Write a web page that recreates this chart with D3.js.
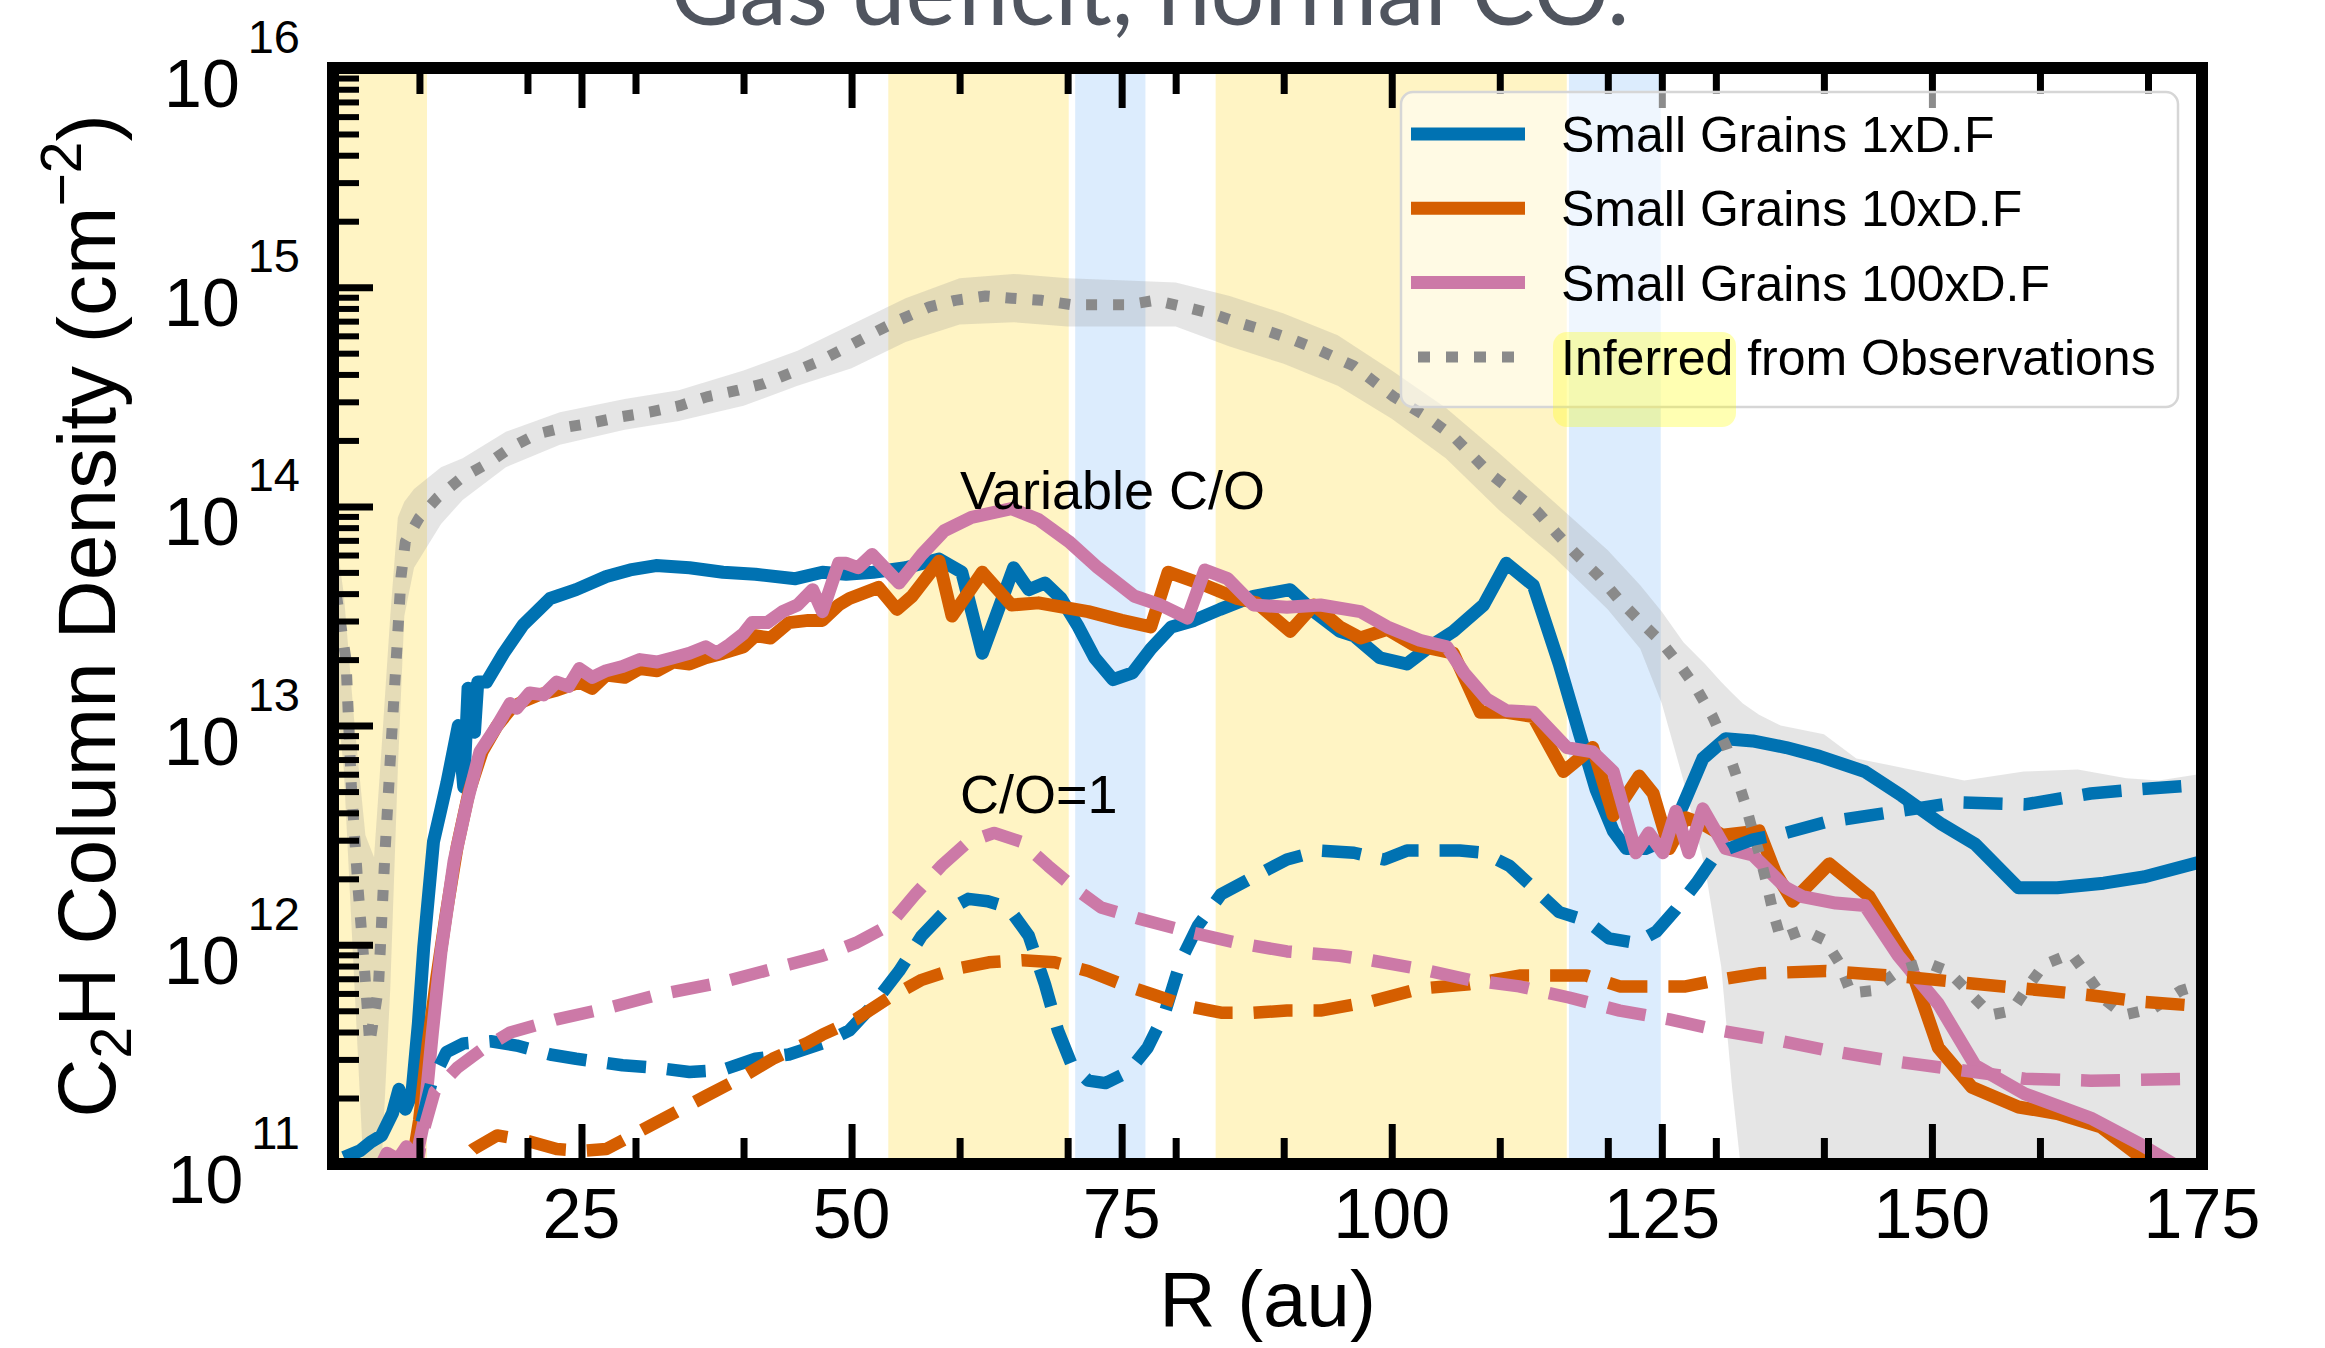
<!DOCTYPE html>
<html><head><meta charset="utf-8">
<script src="https://cdn.jsdelivr.net/npm/d3@7"></script>
<style>
html,body{margin:0;padding:0;background:#fff;}
svg{display:block;}
</style></head><body>
<svg id="chart" width="2325" height="1348"></svg>
<script>
// ---------------- data ----------------
const xMajorTicks = [25, 50, 75, 100, 125, 150, 175];
const xMinorTicks = [10, 20, 30, 40, 60, 70, 80, 90, 110, 120, 130, 140, 160, 170];
const yDecades = [11, 12, 13, 14, 15, 16];
const legendLabels = ["Small Grains 1xD.F", "Small Grains 10xD.F", "Small Grains 100xD.F", "Inferred from Observations"];
const annotationLabels = ["Variable C/O", "C/O=1"];

// highlighted radial ranges (au)
const yellowSpans = [[0, 10.7], [53.4, 70.1], [83.7, 116.2]];
const blueSpans = [[70.7, 77.2], [116.4, 124.9]];

// Variable C/O (solid) [R au, N cm^-2]
const grains1x = [[3.0,1.07e11],[4.5,1.15e11],[5.5,1.26e11],[6.5,1.35e11],[7.5,1.70e11],[8.1,2.19e11],[8.7,1.78e11],[9.3,2.09e11],[9.9,4.37e11],[10.4,9.77e11],[11.3,2.95e12],[12.0,4.17e12],[12.55,5.50e12],[13.6,1.00e13],[14.1,5.25e12],[14.5,1.48e13],[15.1,9.33e12],[15.4,1.58e13],[16.2,1.58e13],[17.8,2.14e13],[19.6,2.88e13],[22.1,3.80e13],[24.5,4.17e13],[27.3,4.79e13],[29.5,5.13e13],[31.9,5.37e13],[35.0,5.25e13],[38.1,5.01e13],[41.1,4.90e13],[44.8,4.68e13],[47.3,5.01e13],[49.5,4.90e13],[52.0,5.01e13],[55.0,5.25e13],[58.1,5.75e13],[60.2,5.01e13],[62.1,2.14e13],[65.0,5.25e13],[66.4,4.17e13],[67.9,4.47e13],[69.4,3.80e13],[71.0,2.82e13],[72.5,2.04e13],[74.2,1.62e13],[76.0,1.74e13],[77.7,2.24e13],[79.6,2.82e13],[81.7,3.02e13],[84.1,3.39e13],[87.2,3.89e13],[90.6,4.17e13],[92.8,3.31e13],[95.2,2.69e13],[96.5,2.57e13],[98.9,2.04e13],[101.4,1.91e13],[103.5,2.29e13],[105.7,2.69e13],[108.5,3.55e13],[110.6,5.50e13],[113.1,4.37e13],[115.5,1.91e13],[117.4,9.12e12],[118.9,5.13e12],[120.5,3.31e12],[121.7,2.75e12],[123.5,2.75e12],[125.4,3.02e12],[126.9,4.27e12],[128.8,7.08e12],[130.9,8.71e12],[133.4,8.51e12],[136.5,7.94e12],[139.6,7.24e12],[143.8,6.17e12],[147.2,4.79e12],[150.9,3.55e12],[154.0,2.88e12],[158.0,1.82e12],[161.6,1.82e12],[165.9,1.91e12],[169.6,2.04e12],[175.0,2.40e12]];

const grains10x = [[9.0,7.94e10],[10.0,1.58e11],[10.8,3.55e11],[11.6,7.08e11],[12.5,1.41e12],[13.5,2.82e12],[14.6,5.01e12],[15.8,7.59e12],[17.2,1.00e13],[18.5,1.20e13],[19.6,1.29e13],[21.0,1.38e13],[22.7,1.45e13],[24.8,1.58e13],[26.0,1.48e13],[27.3,1.70e13],[29.0,1.66e13],[30.4,1.82e13],[32.0,1.78e13],[33.5,1.95e13],[35.0,1.91e13],[36.5,2.04e13],[38.1,2.14e13],[40.0,2.29e13],[41.1,2.57e13],[42.5,2.51e13],[44.2,2.95e13],[46.0,3.02e13],[47.3,3.02e13],[48.8,3.55e13],[49.8,3.80e13],[52.5,4.27e13],[54.2,3.39e13],[55.6,3.89e13],[58.1,5.62e13],[59.3,3.16e13],[62.1,5.01e13],[64.8,3.55e13],[67.3,3.63e13],[71.9,3.31e13],[75.0,3.02e13],[77.7,2.82e13],[79.3,5.01e13],[82.7,4.37e13],[85.7,3.80e13],[87.5,3.63e13],[90.6,2.69e13],[92.8,3.55e13],[95.2,2.82e13],[97.1,2.51e13],[99.6,2.75e13],[102.0,2.34e13],[105.7,2.14e13],[108.2,1.15e13],[110.6,1.15e13],[113.1,1.10e13],[115.9,6.17e12],[118.6,7.94e12],[120.5,3.89e12],[122.9,5.89e12],[124.2,4.90e12],[125.7,2.75e12],[127.2,3.80e12],[128.8,3.55e12],[130.6,3.16e12],[134.0,3.31e12],[135.5,2.14e12],[137.1,1.58e12],[140.5,2.34e12],[144.2,1.66e12],[147.8,8.51e11],[150.6,3.39e11],[153.7,2.24e11],[158.0,1.82e11],[161.6,1.70e11],[165.6,1.48e11],[169.6,1.05e11],[172.4,8.32e10],[175.0,6.31e10]];

const grains100x = [[6.0,8.91e10],[7.0,1.12e11],[8.0,1.05e11],[8.8,1.20e11],[9.5,9.55e10],[10.4,1.55e11],[11.2,3.98e11],[12.0,9.33e11],[13.2,2.40e12],[14.4,4.47e12],[15.6,7.59e12],[17.2,1.00e13],[18.4,1.26e13],[19.0,1.20e13],[20.2,1.41e13],[21.5,1.38e13],[22.7,1.58e13],[23.8,1.51e13],[24.8,1.82e13],[26.0,1.66e13],[27.3,1.78e13],[28.8,1.86e13],[30.4,2.00e13],[32.0,1.95e13],[33.5,2.04e13],[35.0,2.14e13],[36.5,2.29e13],[37.5,2.14e13],[38.7,2.34e13],[40.0,2.63e13],[40.8,2.95e13],[42.2,2.95e13],[43.6,3.31e13],[45.0,3.55e13],[46.4,4.17e13],[47.3,3.31e13],[48.8,5.50e13],[49.5,5.50e13],[50.6,5.25e13],[51.9,6.03e13],[54.4,4.47e13],[56.5,6.03e13],[58.6,7.76e13],[61.1,8.91e13],[64.8,9.77e13],[67.3,8.71e13],[70.1,6.92e13],[72.8,5.25e13],[76.2,3.89e13],[78.6,3.55e13],[81.1,3.09e13],[82.7,5.13e13],[84.8,4.68e13],[87.2,3.55e13],[90.3,3.47e13],[93.4,3.55e13],[97.1,3.31e13],[99.6,2.82e13],[102.6,2.45e13],[105.1,2.29e13],[106.7,1.74e13],[108.8,1.32e13],[110.6,1.17e13],[113.1,1.15e13],[116.2,7.94e12],[118.6,7.59e12],[120.5,6.17e12],[121.7,3.80e12],[122.6,2.63e12],[123.8,3.24e12],[125.1,2.63e12],[126.3,4.07e12],[127.5,2.63e12],[128.8,4.17e12],[130.9,2.75e12],[133.4,2.57e12],[136.5,1.82e12],[138.0,1.66e12],[141.1,1.55e12],[143.8,1.51e12],[146.9,8.91e11],[150.6,5.37e11],[154.0,2.82e11],[158.6,2.09e11],[164.7,1.62e11],[169.3,1.23e11],[172.7,9.77e10],[175.0,7.94e10]];

// C/O = 1 (dashed)
const grains1xCO1 = [[10.2,1.55e11],[11.1,2.34e11],[12.5,3.24e11],[14.1,3.55e11],[16.6,3.63e11],[19.0,3.47e11],[22.1,3.16e11],[24.5,3.02e11],[28.8,2.82e11],[31.9,2.75e11],[35.0,2.63e11],[38.1,2.69e11],[41.1,3.02e11],[44.2,3.16e11],[47.3,3.55e11],[49.8,4.07e11],[51.9,5.25e11],[54.4,7.59e11],[56.5,1.10e12],[58.6,1.41e12],[60.8,1.62e12],[62.6,1.58e12],[64.5,1.48e12],[66.4,1.10e12],[67.9,6.61e11],[69.1,4.07e11],[70.4,2.82e11],[71.9,2.40e11],[73.5,2.34e11],[75.6,2.63e11],[77.4,3.39e11],[79.0,4.90e11],[80.5,8.51e11],[82.1,1.23e12],[84.2,1.70e12],[87.2,2.04e12],[90.3,2.45e12],[93.4,2.69e12],[96.5,2.63e12],[99.3,2.45e12],[101.4,2.69e12],[106.3,2.69e12],[108.5,2.63e12],[110.9,2.29e12],[113.1,1.82e12],[115.5,1.41e12],[118.0,1.29e12],[120.1,1.07e12],[122.6,1.02e12],[124.5,1.15e12],[126.3,1.45e12],[128.2,1.91e12],[129.7,2.45e12],[131.2,2.75e12],[133.4,3.02e12],[136.5,3.24e12],[140.2,3.63e12],[146.9,4.07e12],[152.4,4.47e12],[158.6,4.37e12],[164.7,4.90e12],[169.3,5.13e12],[175.0,5.37e12]];

const grains10xCO1 = [[11.5,7.08e10],[13.2,9.55e10],[15.0,1.17e11],[17.2,1.35e11],[19.6,1.29e11],[22.7,1.17e11],[25.1,1.15e11],[27.3,1.17e11],[30.4,1.41e11],[33.5,1.70e11],[36.5,2.04e11],[39.6,2.45e11],[42.7,3.02e11],[45.8,3.55e11],[47.3,3.89e11],[50.4,4.57e11],[53.5,5.75e11],[56.5,6.92e11],[59.6,7.76e11],[62.7,8.32e11],[65.8,8.51e11],[68.8,8.32e11],[71.9,7.59e11],[75.0,6.61e11],[78.1,5.89e11],[81.1,5.25e11],[84.2,4.90e11],[87.2,4.90e11],[90.3,5.01e11],[93.4,5.01e11],[98.0,5.50e11],[102.6,6.31e11],[107.2,6.61e11],[111.8,7.24e11],[114.9,7.24e11],[118.0,7.24e11],[121.1,6.46e11],[124.2,6.46e11],[127.2,6.46e11],[130.3,6.92e11],[134.0,7.41e11],[140.2,7.59e11],[146.3,7.24e11],[152.4,6.76e11],[158.6,6.31e11],[164.7,5.89e11],[169.3,5.50e11],[175.0,5.25e11]];

const grains100xCO1 = [[9.5,7.94e10],[10.2,1.32e11],[11.4,2.14e11],[13.5,2.75e11],[16.0,3.39e11],[18.4,3.98e11],[22.7,4.57e11],[27.3,5.13e11],[31.9,5.89e11],[38.1,6.76e11],[44.2,8.13e11],[47.3,8.91e11],[50.4,1.02e12],[53.5,1.23e12],[55.9,1.70e12],[58.3,2.29e12],[60.8,2.95e12],[63.2,3.24e12],[65.7,2.95e12],[68.2,2.29e12],[70.6,1.82e12],[73.1,1.48e12],[76.5,1.32e12],[81.1,1.15e12],[85.7,1.02e12],[90.3,9.33e11],[95.2,8.91e11],[98.0,8.51e11],[102.6,7.76e11],[107.2,6.92e11],[111.8,6.46e11],[116.4,5.75e11],[121.1,5.01e11],[125.7,4.57e11],[130.3,4.07e11],[135.0,3.72e11],[140.2,3.31e11],[146.3,2.95e11],[152.4,2.69e11],[158.6,2.45e11],[164.7,2.40e11],[175.0,2.45e11]];

// Inferred from observations (dotted) and its uncertainty band
const observed = [[2.3,3.98e13],[3.2,2.00e13],[3.7,5.25e12],[4.3,1.86e12],[4.9,7.94e11],[5.4,3.55e11],[6.2,6.31e11],[6.8,2.57e12],[7.4,8.51e12],[7.9,2.19e13],[8.3,4.79e13],[8.7,6.92e13],[10.0,8.91e13],[11.7,1.10e14],[13.9,1.35e14],[16.4,1.58e14],[18.5,1.86e14],[20.9,2.14e14],[23.4,2.29e14],[25.9,2.40e14],[28.8,2.57e14],[31.3,2.69e14],[34.1,2.88e14],[36.6,3.16e14],[39.5,3.39e14],[41.9,3.63e14],[44.4,4.07e14],[46.9,4.57e14],[49.3,5.25e14],[52.0,6.17e14],[54.4,7.08e14],[57.2,8.13e14],[59.6,8.71e14],[62.4,9.12e14],[64.8,8.91e14],[67.6,8.71e14],[70.4,8.32e14],[75.6,8.32e14],[78.1,8.71e14],[80.8,8.13e14],[83.3,7.59e14],[85.7,6.92e14],[88.5,6.31e14],[90.9,5.75e14],[93.4,5.13e14],[96.5,4.37e14],[100.2,3.16e14],[103.2,2.57e14],[105.7,2.09e14],[109.1,1.41e14],[111.2,1.17e14],[113.4,9.55e13],[115.2,7.59e13],[117.1,6.03e13],[119.2,4.79e13],[121.1,3.72e13],[122.9,3.02e13],[124.8,2.45e13],[126.6,1.91e13],[128.2,1.48e13],[129.7,1.10e13],[131.0,7.94e12],[131.9,5.89e12],[132.8,4.27e12],[133.4,3.31e12],[134.0,2.63e12],[134.7,1.91e12],[135.3,1.41e12],[136.0,1.07e12],[138.1,1.17e12],[140.1,1.05e12],[141.4,8.32e11],[142.5,6.03e11],[144.4,6.17e11],[146.9,7.59e11],[149.4,8.32e11],[151.5,7.59e11],[153.7,5.89e11],[155.5,4.79e11],[157.4,5.01e11],[158.9,6.46e11],[160.4,8.13e11],[162.9,9.12e11],[164.4,7.24e11],[166.0,5.62e11],[167.8,4.79e11],[170.5,5.13e11],[173.0,6.17e11],[175.0,6.61e11]];

const bandR  = [2.0,3.0,4.0,5.0,5.8,6.5,7.3,8.0,8.6,9.5,12.0,14.0,18.0,23.0,29.0,34.0,40.0,45.0,50.0,55.0,60.0,65.0,70.0,76.0,80.0,85.0,90.0,95.0,100.0,105.0,110.0,115.0,120.0,123.0,125.0,127.0,129.0,130.5,131.5,132.5,134.0,136.0,140.0,143.0,146.0,153.0,158.5,163.5,168.0,171.0,175.0];
const bandLo = [2.00e13,6.31e12,6.31e11,6.31e10,5.01e10,1.00e11,6.31e11,6.31e12,3.16e13,5.25e13,8.32e13,1.07e14,1.51e14,1.91e14,2.24e14,2.45e14,2.88e14,3.55e14,4.27e14,5.62e14,6.76e14,6.92e14,6.61e14,6.61e14,6.61e14,5.37e14,4.47e14,3.55e14,2.51e14,1.66e14,9.55e13,5.89e13,3.39e13,2.24e13,1.26e13,5.62e12,2.24e12,7.94e11,2.24e11,7.94e10,3.16e10,3.16e10,3.16e10,3.16e10,3.16e10,3.16e10,3.16e10,3.16e10,3.16e10,3.16e10,3.16e10];
const bandHi = [8.91e13,3.98e13,1.00e13,3.16e12,2.51e12,7.94e12,3.16e13,8.91e13,1.05e14,1.20e14,1.51e14,1.66e14,2.19e14,2.69e14,3.09e14,3.39e14,4.17e14,5.13e14,6.76e14,8.91e14,1.10e15,1.15e15,1.10e15,1.07e15,1.05e15,9.12e14,7.59e14,6.03e14,4.17e14,2.82e14,1.74e14,1.05e14,6.31e13,4.37e13,3.31e13,2.40e13,1.91e13,1.58e13,1.41e13,1.26e13,1.12e13,1.00e13,9.12e12,7.08e12,6.61e12,5.62e12,6.17e12,6.31e12,5.75e12,5.62e12,6.03e12];

// ---------------- drawing ----------------
const C = {blue: "#0072b2", orange: "#d55e00", pink: "#cc79a7", gray: "#8a8a8a"};
const L = 333, R = 2202, T = 68, B = 1164;
const x = d3.scaleLinear().domain([2, 175]).range([L, R]);
const y = d3.scaleLog().domain([1e11, 1e16]).range([B, T]);

const svg = d3.select("#chart");
const FONT = "'Liberation Sans', Arial, Helvetica, sans-serif";

svg.append("defs").append("clipPath").attr("id", "plotclip")
  .append("rect").attr("x", L).attr("y", T).attr("width", R - L).attr("height", B - T);

// title (cropped at the top of the figure, as in the source image)
svg.append("text").attr("x", 1150).attr("y", 25).attr("text-anchor", "middle")
  .attr("font-family", "Lato, 'Open Sans', sans-serif").attr("font-weight", 400)
  .attr("font-size", 95).attr("fill", "#50555f").text("Gas deficit, normal CO.");

const plot = svg.append("g").attr("clip-path", "url(#plotclip)");

plot.selectAll("rect.ys").data(yellowSpans).join("rect").attr("class", "ys")
  .attr("x", d => x(d[0])).attr("width", d => x(d[1]) - x(d[0]))
  .attr("y", T).attr("height", B - T).attr("fill", "#fff4c4");
plot.selectAll("rect.bs").data(blueSpans).join("rect").attr("class", "bs")
  .attr("x", d => x(d[0])).attr("width", d => x(d[1]) - x(d[0]))
  .attr("y", T).attr("height", B - T).attr("fill", "#dcecfd");

const band = bandR.map((r, i) => [r, bandLo[i], bandHi[i]]);
plot.append("path").datum(band)
  .attr("d", d3.area().x(d => x(d[0])).y0(d => y(d[1])).y1(d => y(d[2])))
  .attr("fill", "#8f8f8f").attr("fill-opacity", 0.23);

const line = d3.line().x(d => x(d[0])).y(d => y(d[1]));
function draw(data, color, width, dash) {
  const p = plot.append("path").datum(data).attr("d", line)
    .attr("fill", "none").attr("stroke", color).attr("stroke-width", width)
    .attr("stroke-linejoin", "round");
  if (dash) p.attr("stroke-dasharray", dash);
}
draw(grains1x, C.blue, 13);
draw(grains10x, C.orange, 13);
draw(grains100x, C.pink, 13);
draw(observed, C.gray, 11, "11 16");
draw(grains1xCO1, C.blue, 12.5, "39 21");
draw(grains10xCO1, C.orange, 12.5, "39 21");
draw(grains100xCO1, C.pink, 12.5, "39 21");

// annotations
svg.append("text").attr("x", 960).attr("y", 509).attr("font-family", FONT)
  .attr("font-size", 54).attr("fill", "#000").text(annotationLabels[0]);
svg.append("text").attr("x", 960).attr("y", 813).attr("font-family", FONT)
  .attr("font-size", 54).attr("fill", "#000").text(annotationLabels[1]);

// axes ticks (inward)
function styleAxis(g, w) {
  g.select(".domain").remove();
  g.selectAll(".tick line").attr("stroke", "#000").attr("stroke-width", w);
  g.selectAll(".tick text").remove();
}
svg.append("g").attr("transform", `translate(0,${B})`)
  .call(d3.axisBottom(x).tickValues(xMajorTicks).tickSize(-40)).call(styleAxis, 7);
svg.append("g").attr("transform", `translate(0,${B})`)
  .call(d3.axisBottom(x).tickValues(xMinorTicks).tickSize(-26)).call(styleAxis, 7);
svg.append("g").attr("transform", `translate(0,${T})`)
  .call(d3.axisTop(x).tickValues(xMajorTicks).tickSize(-40)).call(styleAxis, 7);
svg.append("g").attr("transform", `translate(0,${T})`)
  .call(d3.axisTop(x).tickValues(xMinorTicks).tickSize(-26)).call(styleAxis, 7);

const yMajor = yDecades.map(e => Math.pow(10, e));
const yMinor = [];
yDecades.slice(0, -1).forEach(e => { for (let k = 2; k <= 9; k++) yMinor.push(k * Math.pow(10, e)); });
svg.append("g").attr("transform", `translate(${L},0)`)
  .call(d3.axisLeft(y).tickValues(yMajor).tickSize(-40)).call(styleAxis, 7);
svg.append("g").attr("transform", `translate(${L},0)`)
  .call(d3.axisLeft(y).tickValues(yMinor).tickSize(-26)).call(styleAxis, 6);

// frame
svg.append("rect").attr("x", L).attr("y", T).attr("width", R - L).attr("height", B - T)
  .attr("fill", "none").attr("stroke", "#000").attr("stroke-width", 12);

// tick labels
svg.selectAll("text.xt").data(xMajorTicks).join("text").attr("class", "xt")
  .attr("x", d => x(d)).attr("y", 1238).attr("text-anchor", "middle")
  .attr("font-family", FONT).attr("font-size", 70).text(d => d);

const yt = svg.selectAll("text.yt").data(yDecades).join("text").attr("class", "yt")
  .attr("x", 300).attr("y", d => y(Math.pow(10, d)) + 39).attr("text-anchor", "end")
  .attr("font-family", FONT).attr("font-size", 68);
yt.append("tspan").text("10");
yt.append("tspan").attr("dx", 8).attr("dy", -54).attr("font-size", 47).text(d => d);

// axis labels
svg.append("text").attr("x", (L + R) / 2).attr("y", 1326).attr("text-anchor", "middle")
  .attr("font-family", FONT).attr("font-size", 78).text("R (au)");

const yl = svg.append("text").attr("transform", `translate(115,${(T + B) / 2}) rotate(-90)`)
  .attr("text-anchor", "middle").attr("font-family", FONT).attr("font-size", 82);
yl.append("tspan").text("C");
yl.append("tspan").attr("font-size", 57).attr("dy", 16).text("2");
yl.append("tspan").attr("dy", -16).text("H Column Density (cm");
yl.append("tspan").attr("font-size", 57).attr("dy", -34).text("\u22122");
yl.append("tspan").attr("dy", 34).text(")");

// legend
const lg = svg.append("g");
lg.append("rect").attr("x", 1401).attr("y", 92).attr("width", 777).attr("height", 315)
  .attr("rx", 12).attr("fill", "#fff").attr("fill-opacity", 0.55)
  .attr("stroke", "#d6d6d6").attr("stroke-width", 2.5);
lg.append("rect").attr("x", 1553).attr("y", 332).attr("width", 183).attr("height", 95)
  .attr("rx", 14).attr("fill", "#ffff00").attr("fill-opacity", 0.3);
const legendStyle = [
  {c: C.blue, w: 13, dash: null},
  {c: C.orange, w: 13, dash: null},
  {c: C.pink, w: 13, dash: null},
  {c: C.gray, w: 11, dash: "12 16"}
];
legendLabels.forEach((lab, i) => {
  const yy = 134 + i * 74.3;
  const s = legendStyle[i];
  const ln = lg.append("line").attr("x1", 1411).attr("x2", 1525).attr("y1", yy).attr("y2", yy)
    .attr("stroke", s.c).attr("stroke-width", s.w);
  if (s.dash) ln.attr("stroke-dasharray", s.dash).attr("x1", 1418);
  lg.append("text").attr("x", 1561).attr("y", yy + 18).attr("font-family", FONT)
    .attr("font-size", 50).text(lab);
});
</script>
</body></html>
